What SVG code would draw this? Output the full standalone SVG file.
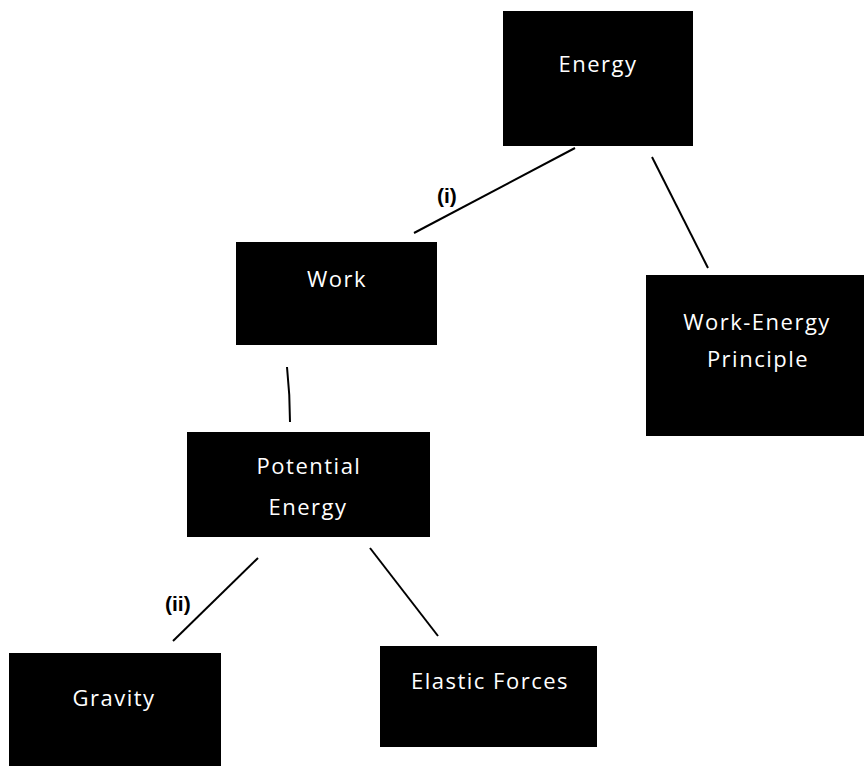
<svg xmlns="http://www.w3.org/2000/svg" width="864" height="766" viewBox="0 0 864 766">
<style>
.box{fill:#000}
.t{fill:#fff;font-family:"Open Sans","Noto Sans",sans-serif;font-size:22px;letter-spacing:1.5px;text-anchor:middle}
.e{stroke:#000;stroke-width:2;fill:none}
.lab{fill:#000;font-family:"Liberation Sans",Arial,sans-serif;font-size:21px;font-weight:bold}
</style>
<rect width="864" height="766" fill="#fff"/>
<g id="energy"><rect class="box" x="503" y="11" width="190" height="135"/><text class="t" x="598" y="72">Energy</text></g>
<g id="work"><rect class="box" x="236" y="242" width="201" height="103"/><text class="t" x="337" y="287">Work</text></g>
<g id="wep"><rect class="box" x="646" y="275" width="218" height="161"/><text class="t" x="757" y="330">Work-Energy</text><text class="t" x="758" y="367">Principle</text></g>
<g id="pe"><rect class="box" x="187" y="432" width="243" height="105"/><text class="t" x="309" y="474">Potential</text><text class="t" x="308" y="515">Energy</text></g>
<g id="gravity"><rect class="box" x="9" y="653" width="212" height="113"/><text class="t" x="114" y="706">Gravity</text></g>
<g id="elastic"><rect class="box" x="380" y="646" width="217" height="101"/><text class="t" x="490" y="689">Elastic Forces</text></g>
<g id="connectors">
<line class="e" x1="575" y1="148" x2="414" y2="233"/>
<line class="e" x1="652" y1="157" x2="708" y2="268"/>
<path class="e" d="M287 367 Q290 395 290 422"/>
<line class="e" x1="258" y1="558" x2="173" y2="641"/>
<line class="e" x1="370" y1="548" x2="438" y2="636"/>
</g>
<text class="lab" x="437" y="203">(i)</text>
<text class="lab" x="165" y="611">(ii)</text>
</svg>
